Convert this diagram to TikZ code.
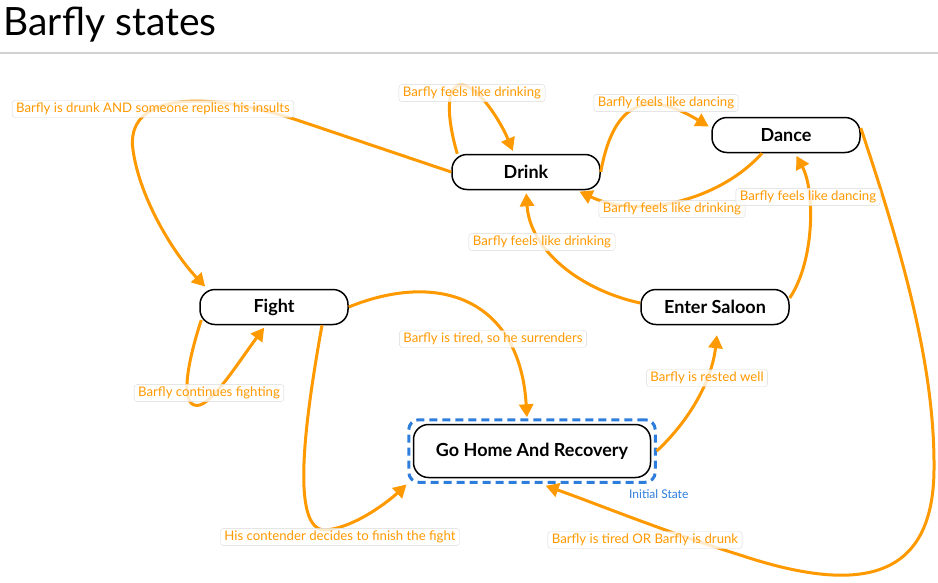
\documentclass[tikz,border=0pt]{standalone}
\usepackage{fontspec}
\setmainfont{Lato}
\usepackage{xcolor}
\definecolor{orng}{RGB}{255,153,0}
\definecolor{initblue}{RGB}{45,125,220}
\usetikzlibrary{arrows.meta,positioning,fit,calc}
\tikzset{
  state/.style={rectangle, draw=black, line width=1.5pt, fill=white, rounded corners=15pt,
    minimum width=148pt, minimum height=35pt, font=\fontsize{18}{20}\selectfont\bfseries},
  bigstate/.style={state, minimum width=237pt, minimum height=53pt},
  initbox/.style={draw=initblue, line width=3pt, dash pattern=on 8pt off 5pt, rounded corners=10pt, inner sep=4pt},
  initlbl/.style={text=initblue, font=\fontsize{12}{14}\selectfont},
  trans/.style={draw=orng, line width=3pt, -{Triangle[length=13pt,width=14pt]}, shorten >=3pt},
  lbl/.style={rectangle, draw=gray!30, fill=white, fill opacity=0.8, text opacity=1, text=orng,
    rounded corners=3pt, inner xsep=4pt, inner ysep=2.5pt, font=\fontsize{13.2}{15}\selectfont},
  title/.style={font=\fontsize{39}{42}\selectfont},
  sep/.style={draw=gray!35, line width=1.5pt},
}
\begin{document}
\begin{tikzpicture}[x=1pt,y=-1pt]
\useasboundingbox (0,0) rectangle (938,582);

\node[title, anchor=base west] (title) at (0,35) {Barfly states};
\draw[sep] (0,53) -- (938,53);

% states
\node[state] (drink) at (526,172) {Drink};
\node[state] (dance) at (786,135) {Dance};
\node[state] (fight) at (274,307) {Fight};
\node[state] (saloon) at (715,307) {Enter Saloon};
\node[bigstate] (home) at (532,451) {Go Home And Recovery};
\node[initbox, fit=(home)] (init) {};
\node[initlbl] (initlbl) at ([xshift=2pt,yshift=-10pt]init.south east) {Initial State};

% transitions
\draw[trans] (drink.west) -- (300,121) .. controls (200,88) and (125,95) .. (133,150)
  .. controls (140,200) and (175,255) .. ([xshift=8pt]fight.north west);
\draw[trans] ([xshift=6pt]drink.north west) .. controls (446,115) and (446,84) .. (462,85)
  .. controls (478,86) and (500,120) .. ([xshift=-12pt]drink.north);
\draw[trans] (drink.east) .. controls (612,110) and (640,85) .. ([yshift=7pt]dance.west);
\draw[trans] ([xshift=-24pt]dance.south) .. controls (720,200) and (640,220) .. ([xshift=-24pt]drink.south east);
\draw[trans] ([yshift=9pt]saloon.east) .. controls (815,260) and (815,190) .. ([xshift=9pt]dance.south);
\draw[trans] ([yshift=4pt]saloon.west) .. controls (580,290) and (530,250) .. (drink.south);
\draw[trans, shorten >=6pt] ([yshift=7pt]dance.east) .. controls (905,260) and (935,370) .. (934,470)
  .. controls (933,580) and (860,595) .. (740,555) .. controls (660,530) and (600,505) .. ([xshift=8pt]init.south);
\draw[trans] ([xshift=2pt,yshift=-13pt]fight.west) .. controls (185,370) and (180,410) .. (200,405)
  .. controls (215,400) and (240,360) .. ([xshift=-8pt]fight.south);
\draw[trans, shorten >=1pt] (fight.east) .. controls (440,270) and (520,300) .. ([xshift=-5pt]init.north);
\draw[trans, shorten >=1pt] ([xshift=48pt]fight.south) .. controls (305,420) and (290,530) .. (325,530)
  .. controls (355,528) and (390,500) .. (init.south west);
\draw[trans, shorten >=10pt] (init.east) .. controls (690,420) and (712,380) .. ([xshift=3pt]saloon.south);

% labels
\node[lbl] (l1) at (153,109) {Barfly is drunk AND someone replies his insults};
\node[lbl] (l2) at (472,93) {Barfly feels like drinking};
\node[lbl] (l3) at (666,103) {Barfly feels like dancing};
\node[lbl] (l4) at (672,209) {Barfly feels like drinking};
\node[lbl] (l5) at (808,197) {Barfly feels like dancing};
\node[lbl] (l6) at (542,242) {Barfly feels like drinking};
\node[lbl] (l7) at (645,540) {Barfly is tired OR Barfly is drunk};
\node[lbl] (l8) at (209,393) {Barfly continues fighting};
\node[lbl] (l9) at (493,339) {Barfly is tired, so he surrenders};
\node[lbl] (l10) at (340,537) {His contender decides to finish the fight};
\node[lbl] (l11) at (707,378) {Barfly is rested well};
\end{tikzpicture}
\end{document}
